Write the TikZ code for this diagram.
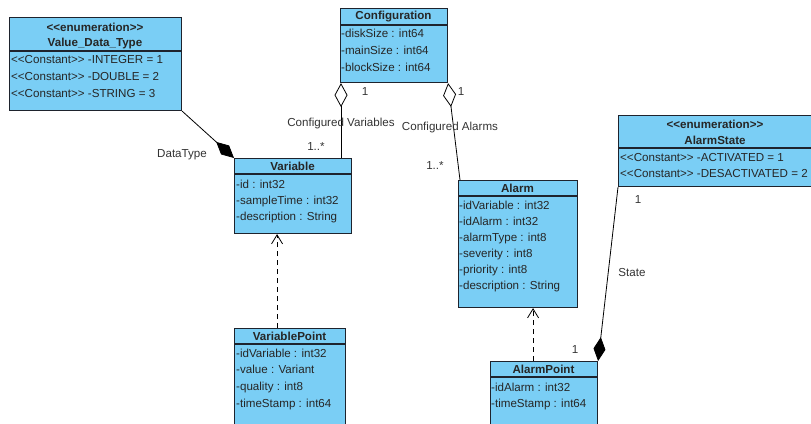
\documentclass[tikz,border=0pt]{standalone}
\usepackage{fontspec}
\setmainfont{Liberation Sans}
\usetikzlibrary{positioning}
\usetikzlibrary{arrows.meta}
\definecolor{vpblue}{RGB}{122,206,245}
\definecolor{vpline}{RGB}{30,35,45}
\newcommand{\stl}{\mbox{<}\mbox{<}}
\newcommand{\stg}{\mbox{>}\mbox{>}}
\tikzset{%
  cls/.style = {rectangle,draw=vpline,fill=vpblue,line width=1.1pt,
        anchor=north west,inner sep=0pt},
  sep/.style = {draw=vpline,line width=1.1pt},
  hdr/.style = {font=\fontsize{11.6}{13}\selectfont\bfseries,inner sep=0pt,
        text=black!85},
  attr/.style = {font=\fontsize{11.6}{13}\selectfont,inner sep=0pt,anchor=west,
        text height=8.5pt,text depth=2.5pt,text=black!85},
  lbl/.style = {font=\fontsize{11.6}{13}\selectfont,inner sep=0pt,text=black!80},
  aggarrow/.style = {{Diamond[open,length=24pt,width=13pt]}-,line width=0.8pt},
  comparrow/.style = {-{Diamond[length=24pt,width=12pt]},line width=0.8pt},
  realarrow/.style = {-{Straight Barb[length=9pt,width=11pt]},
        dash pattern=on 5pt off 4pt,line width=0.8pt}
}

\begin{document}
\begin{tikzpicture}[x=1pt,y=-1pt]
    \useasboundingbox (0,0) rectangle (811,423);
    \clip (0,0) rectangle (811,423);
    % enumeration Value_Data_Type
    \node[cls,minimum width=172pt,minimum height=93pt] (vdt) at (9,17) {};
    \draw[sep] (vdt.west |- 0,51) -- (vdt.east |- 0,51);
    \node[hdr] (vdt-s) at (95,27) {\stl{}enumeration\stg};
    \node[hdr] (vdt-t) at (95,44) {Value\_Data\_Type};
    \foreach \t [count=\i] in {{\stl{}Constant\stg{} -INTEGER = 1},
            {\stl{}Constant\stg{} -DOUBLE = 2},{\stl{}Constant\stg{} -STRING = 3}}
        \node[attr] (vdt-\i) at (11,{60+17*(\i-1)}) {\t};
    % Configuration
    \node[cls,minimum width=107pt,minimum height=74pt] (cfg) at (340,8) {};
    \draw[sep] (cfg.west |- 0,25) -- (cfg.east |- 0,25);
    \node[hdr] (cfg-t) at (393.5,17) {Configuration};
    \foreach \t [count=\i] in {-diskSize : int64,-mainSize : int64,-blockSize : int64}
        \node[attr] (cfg-\i) at (341,{34+17*(\i-1)}) {\t};
    % Variable
    \node[cls,minimum width=117pt,minimum height=75pt] (var) at (234,158) {};
    \draw[sep] (var.west |- 0,174) -- (var.east |- 0,174);
    \node[hdr] (var-t) at (292.5,166) {Variable};
    \foreach \t [count=\i] in {-id : int32,-sampleTime : int32,-description : String}
        \node[attr] (var-\i) at (236,{185+16*(\i-1)}) {\t};
    % Alarm
    \node[cls,minimum width=119pt,minimum height=127pt] (alm) at (458,180) {};
    \draw[sep] (alm.west |- 0,196) -- (alm.east |- 0,196);
    \node[hdr] (alm-t) at (517.5,188) {Alarm};
    \foreach \t [count=\i] in {-idVariable : int32,-idAlarm : int32,-alarmType : int8,
            -severity : int8,-priority : int8,-description : String}
        \node[attr] (alm-\i) at (459,{206+16*(\i-1)}) {\t};
    % enumeration AlarmState
    \node[cls,minimum width=194pt,minimum height=71pt] (ast) at (618,115) {};
    \draw[sep] (ast.west |- 0,148) -- (ast.east |- 0,148);
    \node[hdr] (ast-s) at (715,124) {\stl{}enumeration\stg};
    \node[hdr] (ast-t) at (715,140) {AlarmState};
    \foreach \t [count=\i] in {{\stl{}Constant\stg{} -ACTIVATED = 1},
            {\stl{}Constant\stg{} -DESACTIVATED = 2}}
        \node[attr] (ast-\i) at (620,{158+16*(\i-1)}) {\t};
    % VariablePoint
    \node[cls,minimum width=111pt,minimum height=110pt] (vp) at (234,328) {};
    \draw[sep] (vp.west |- 0,344) -- (vp.east |- 0,344);
    \node[hdr] (vp-t) at (289.5,336) {VariablePoint};
    \foreach \t [count=\i] in {-idVariable : int32,-value : Variant,-quality : int8,
            -timeStamp : int64}
        \node[attr] (vp-\i) at (236,{354+16.7*(\i-1)}) {\t};
    % AlarmPoint
    \node[cls,minimum width=107pt,minimum height=80pt] (ap) at (490,361) {};
    \draw[sep] (ap.west |- 0,377) -- (ap.east |- 0,377);
    \node[hdr] (ap-t) at (543.5,369) {AlarmPoint};
    \foreach \t [count=\i] in {-idAlarm : int32,-timeStamp : int64}
        \node[attr] (ap-\i) at (491,{388+16*(\i-1)}) {\t};
    % associations
    \draw[comparrow] (vdt.south east) -- (var.north west);
    \draw[aggarrow] ([xshift=1pt]cfg.south west) -- ([xshift=1pt]cfg.south west |- var.north);
    \draw[aggarrow] (cfg.south east) -- ([xshift=2pt]alm.north west);
    \draw[comparrow] (ast.south west) -- (ap.north east);
    \draw[realarrow] ([xshift=-13pt]vp.north) -- ([xshift=-13pt]vp.north |- var.south);
    \draw[realarrow] ([xshift=-11pt]ap.north) -- ([xshift=-11pt]ap.north |- alm.south);
    % labels
    \node[lbl] (dt-l) at (182,155) {DataType};
    \node[lbl] (cv-1) at (365,92) {1};
    \node[lbl] (cv-l) at (341,123) {Configured Variables};
    \node[lbl] (cv-m) at (316,147) {1..*};
    \node[lbl] (ca-1) at (461,92) {1};
    \node[lbl] (ca-l) at (450,127) {Configured Alarms};
    \node[lbl] (ca-m) at (435,166) {1..*};
    \node[lbl] (st-1) at (638,200) {1};
    \node[lbl] (st-l) at (632,273) {State};
    \node[lbl] (st-2) at (575,350) {1};
\end{tikzpicture}
\end{document}
